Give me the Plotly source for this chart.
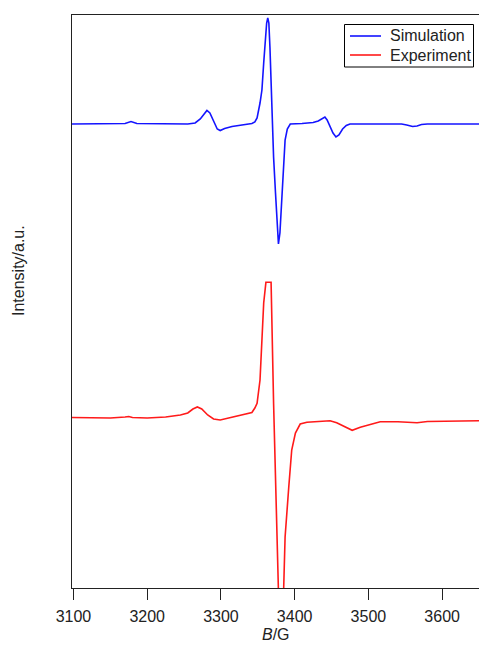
import plotly.graph_objects as go

# Simulation (blue) trace: field (G) and intensity (a.u.)
sim_field = [3098, 3160, 3170, 3178, 3186, 3255, 3265, 3272, 3278, 3281, 3285, 3290, 3295, 3299,
             3305, 3315, 3330, 3342, 3346, 3349, 3353, 3355.6, 3358, 3360, 3362, 3363.5, 3365,
             3366.5, 3368, 3370, 3371.4, 3374, 3376, 3378, 3380, 3383, 3385, 3387, 3390, 3394,
             3410, 3425, 3432, 3438, 3441, 3444, 3448, 3452, 3456, 3460, 3465, 3470, 3475,
             3545, 3552, 3560, 3566, 3572, 3580, 3650]
sim_int = [464, 464, 464.5, 466.5, 464.5, 464, 465, 469, 475.5, 477.5, 475, 466, 459, 457.5,
           459.5, 461.5, 463, 464.5, 466, 470, 485, 498, 525, 548, 565, 570, 565,
           540, 498, 455, 431, 395, 365, 344, 355, 398, 428, 448, 459, 464,
           464.5, 465.5, 467, 470, 471, 468, 461, 455, 451, 453, 459, 462.5, 464,
           464, 463, 461.5, 462, 463.5, 464, 464]

# Experiment (red) trace
exp_field = [3098, 3150, 3170, 3175, 3180, 3200, 3225, 3245, 3255, 3262, 3268, 3274, 3282, 3290,
             3299, 3310, 3325, 3342, 3346, 3349, 3353, 3355.6, 3358, 3361, 3368, 3371.4, 3376,
             3378, 3385, 3387, 3392, 3396, 3401, 3407.5, 3416.6, 3448, 3457, 3469, 3478, 3489,
             3516, 3540, 3566, 3580, 3650]
exp_int = [170.5, 170, 171, 171.5, 170.5, 170, 171, 173, 175, 179, 181, 179, 173, 169,
           168, 170, 173, 175.5, 180, 184.7, 208, 251, 285, 305.7, 305.7, 185, 51,
           -3, -3, 51, 101, 138, 155, 164, 165.7, 167.3, 165.3, 160.7, 157.7, 160.7,
           166.3, 166.3, 165.3, 166.5, 167.3]

x_ticks = [3100, 3200, 3300, 3400, 3500, 3600]
series_names = ["Simulation", "Experiment"]
series_colors = ["#1414ff", "#ff1a1a"]

# layout geometry (pixels)
W, H = 479, 645
ML, MR, MT, MB = 72, 0, 15, 57
PW, PH = W - ML - MR, H - MT - MB


def px_x(p):
    return (p - ML) / PW


def px_y(p):
    return (H - MB - p) / PH


fig = go.Figure()
for xs, ys, nm, col in [(sim_field, sim_int, series_names[0], series_colors[0]),
                        (exp_field, exp_int, series_names[1], series_colors[1])]:
    fig.add_trace(go.Scatter(x=xs, y=ys, mode="lines", name=nm,
                             line=dict(color=col, width=1.6), showlegend=False))

font = "Liberation Sans, Arial, sans-serif"

# Hand-drawn legend box (to match the compact row spacing of the original)
shapes = [dict(type="rect", xref="paper", yref="paper",
               x0=px_x(344.5), x1=px_x(473.5), y0=px_y(67), y1=px_y(24.5),
               line=dict(color="black", width=1), fillcolor="white", layer="above")]
annotations = []
for i, (nm, col) in enumerate(zip(series_names, series_colors)):
    yc = 36 + 19 * i
    shapes.append(dict(type="line", xref="paper", yref="paper",
                       x0=px_x(350), x1=px_x(381), y0=px_y(yc), y1=px_y(yc),
                       line=dict(color=col, width=1.6), layer="above"))
    annotations.append(dict(text=nm, xref="paper", yref="paper", x=px_x(388), y=px_y(yc),
                            xanchor="left", yanchor="middle", showarrow=False,
                            font=dict(size=16, family=font, color="#222")))

annotations.append(dict(text="Intensity/a.u.", xref="paper", yref="paper",
                        x=px_x(18), y=px_y(271), xanchor="center", yanchor="middle",
                        textangle=-90, showarrow=False,
                        font=dict(size=16, family=font, color="#222")))
annotations.append(dict(text="<i>B</i>/G", xref="paper", yref="paper",
                        x=0.5, y=px_y(635), xanchor="center", yanchor="middle",
                        showarrow=False, font=dict(size=16, family=font, color="#222")))

fig.update_layout(
    width=W, height=H,
    margin=dict(l=ML, r=MR, t=MT, b=MB),
    plot_bgcolor="white", paper_bgcolor="white",
    font=dict(family=font, size=16, color="#222"),
    showlegend=False,
    xaxis=dict(range=[3098, 3650], tickvals=x_ticks, ticks="outside", ticklen=11,
               tickcolor="#222", tickwidth=1, showline=True, linecolor="#222", linewidth=1,
               mirror=True, showgrid=False, zeroline=False, ticklabelstandoff=3),
    yaxis=dict(range=[0, 573], showticklabels=False, ticks="", showline=True,
               linecolor="#222", linewidth=1, showgrid=False, zeroline=False),
    shapes=shapes,
    annotations=annotations,
)

fig.write_html("out.html", config={"displayModeBar": False},
               post_script="document.body.style.margin='0';document.body.style.overflow='hidden';")
